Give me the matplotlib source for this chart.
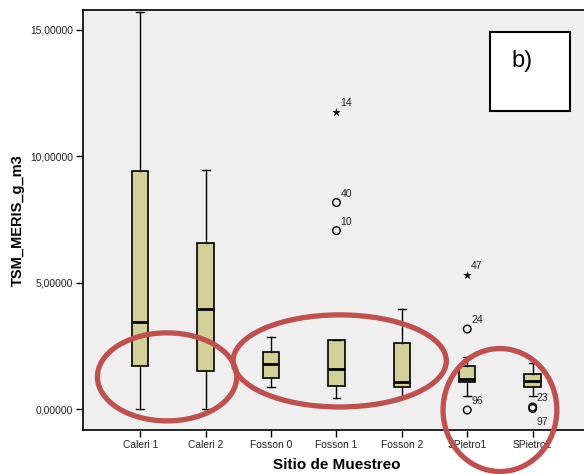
import matplotlib
matplotlib.use("Agg")
import matplotlib.pyplot as plt
from matplotlib.patches import Ellipse, Rectangle
from matplotlib.ticker import FuncFormatter

plt.rcParams["font.family"] = ["Liberation Sans", "DejaVu Sans"]

# ---- data ----
sites = ["Caleri 1", "Caleri 2", "Fosson 0", "Fosson 1", "Fosson 2", "SPietro1", "SPietro2"]
whislo = [0.01, 0.00, 0.89, 0.45, 0.50, 0.54, 0.54]
q1     = [1.70, 1.53, 1.25, 0.92, 0.87, 1.07, 0.88]
med    = [3.44, 3.96, 1.79, 1.59, 1.08, 1.21, 1.12]
q3     = [9.41, 6.56, 2.28, 2.75, 2.61, 1.72, 1.41]
whishi = [15.71, 9.45, 2.85, 2.75, 3.95, 2.06, 1.83]

# outliers: (site index, value, case id)
circle_site = [3, 3, 5, 5, 6, 6]
circle_val  = [8.17, 7.06, 3.17, -0.03, 0.09, 0.03]
circle_id   = ["40", "10", "24", "96", "23", "97"]
star_site = [3, 5]
star_val  = [11.74, 5.31]
star_id   = ["14", "47"]

yticks = [0, 5, 10, 15]

# ---- figure ----
W, H = 584, 474
fig = plt.figure(figsize=(W / 100, H / 100), dpi=100)
fig.patch.set_facecolor("white")
left_px, right_px, top_px, bot_px = 82.7, 600, 10, 430
aw, ah = right_px - left_px, bot_px - top_px
ax = fig.add_axes([left_px / W, 1 - bot_px / H, aw / W, ah / H])
ax.set_facecolor("#efefef")

stats = []
for i, s in enumerate(sites):
    stats.append(dict(label=s, whislo=whislo[i], q1=q1[i], med=med[i], q3=q3[i],
                      whishi=whishi[i], fliers=[]))
ax.bxp(stats, positions=range(len(sites)), widths=0.25, patch_artist=True,
       showfliers=False,
       boxprops=dict(facecolor="#d3cf98", edgecolor="black", linewidth=1.2),
       medianprops=dict(color="black", linewidth=2),
       whiskerprops=dict(color="black", linewidth=1),
       capprops=dict(color="black", linewidth=1),
       capwidths=0.12)

ax.scatter(circle_site, circle_val, s=30, facecolors="none", edgecolors="black",
           linewidths=1, zorder=3, clip_on=False)
ax.scatter(star_site, star_val, s=40, marker="*", color="black", linewidths=0, zorder=3)

lab_off = {"97": (0.06, -0.55)}
for x, y, t in zip(circle_site + star_site, circle_val + star_val, circle_id + star_id):
    dx, dy = lab_off.get(t, (0.06, 0.35))
    ax.text(x + dx, y + dy, t, fontsize=7.5, color="#222222", ha="left", va="center",
            clip_on=False)

ax.set_xlim(-0.88, aw / 65.4 - 0.88)
ax.set_ylim(-0.82, 15.78)
ax.set_yticks(yticks)
ax.yaxis.set_major_formatter(FuncFormatter(lambda v, p: f"{v:.5f}".replace(".", ",")))
ax.set_xticks(range(len(sites)))
ax.set_xticklabels(sites)
ax.tick_params(axis="both", direction="out", length=5, width=1, labelsize=7.4,
               labelcolor="#222222", pad=2)
for sp in ["top", "left", "bottom"]:
    ax.spines[sp].set_linewidth(1.2)
ax.spines["right"].set_visible(False)

ax.set_ylabel("TSM_MERIS_g_m3", fontsize=10.5, fontweight="bold")
ax.yaxis.set_label_coords((25 - left_px) / aw, 0.5)
ax.set_xlabel("Sitio de Muestreo", fontsize=11, fontweight="bold")
ax.xaxis.set_label_coords((337 - left_px) / aw, -(458 - bot_px) / ah)

# annotation box "b)"
fig.patches.append(Rectangle((490 / W, 1 - 110.7 / H), 80 / W, 79 / H,
                             transform=fig.transFigure, facecolor="white",
                             edgecolor="black", linewidth=1.5, zorder=5))
fig.text(522 / W, 1 - 61 / H, "b)", fontsize=17, ha="center", va="center", zorder=6)

# red ellipses
red = "#c0504d"
for cx, cy, w, h in [(0.41, 1.28, 2.13, 3.48), (3.05, 1.91, 3.26, 3.64), (5.5, -0.03, 1.74, 4.86)]:
    ax.add_patch(Ellipse((cx, cy), w, h, fill=False, edgecolor=red, linewidth=3.8,
                         zorder=4, clip_on=False))

fig.savefig("out.png", dpi=100)
